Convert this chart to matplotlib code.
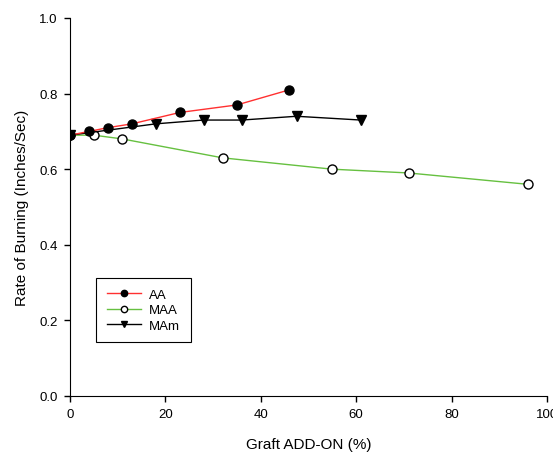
import matplotlib
matplotlib.use("Agg")
import matplotlib.pyplot as plt

plt.rcParams["font.family"] = ["Liberation Sans", "DejaVu Sans"]

# ── data ─────────────────────────────────────────────────────────────────────
aa_x  = [0, 4, 8, 13, 23, 35, 46]
aa_y  = [0.69, 0.70, 0.71, 0.72, 0.75, 0.77, 0.81]

maa_x = [0, 5, 11, 32, 55, 71, 96]
maa_y = [0.69, 0.69, 0.68, 0.63, 0.60, 0.59, 0.56]

mam_x = [0, 18, 28, 36, 47.5, 61]
mam_y = [0.69, 0.72, 0.73, 0.73, 0.74, 0.73]

# ── plot ─────────────────────────────────────────────────────────────────────
fig = plt.figure(figsize=(5.53, 4.60), dpi=100)
ax = fig.add_axes([0.1266, 0.137, 0.8624, 0.8217])

ax.plot(aa_x, aa_y, color="#ff3030", linewidth=1, marker="o", markersize=6.5,
        markerfacecolor="black", markeredgecolor="black", label="AA", zorder=4)
ax.plot(maa_x, maa_y, color="#66c040", linewidth=1, marker="o", markersize=6.5,
        markerfacecolor="white", markeredgecolor="black", label="MAA", zorder=3)
ax.plot(mam_x, mam_y, color="black", linewidth=1, marker="v", markersize=7,
        markerfacecolor="black", markeredgecolor="black", label="MAm", zorder=3)

ax.set_xlim(0, 100)
ax.set_ylim(0, 1.0)
ax.set_xticks([0, 20, 40, 60, 80, 100])
ax.set_yticks([0.0, 0.2, 0.4, 0.6, 0.8, 1.0])
ax.set_yticklabels(["0.0", "0.2", "0.4", "0.6", "0.8", "1.0"])
ax.tick_params(direction="out", length=4, width=1, labelsize=9.5, pad=5)
ax.spines["top"].set_visible(False)
ax.spines["right"].set_visible(False)

ax.set_xlabel("Graft ADD-ON (%)", fontsize=11, labelpad=12)
ax.set_ylabel("Rate of Burning (Inches/Sec)", fontsize=11, labelpad=7)

leg = ax.legend(loc="lower left", bbox_to_anchor=(0.05, 0.135), fontsize=9.5,
                fancybox=False, edgecolor="black", framealpha=1, markerscale=0.7,
                handlelength=2.6, handletextpad=0.6, borderpad=0.8,
                labelspacing=0.25, borderaxespad=0.2)
leg.get_frame().set_linewidth(0.8)

fig.savefig("out.png", dpi=100)
